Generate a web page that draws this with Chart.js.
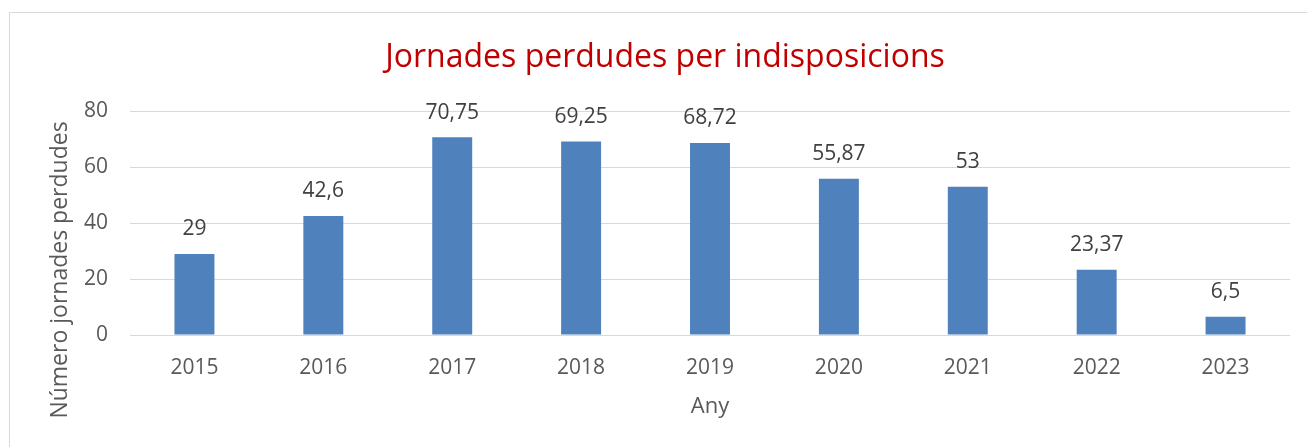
<!DOCTYPE html>
<html>
<head>
<meta charset="utf-8">
<script src="https://cdn.jsdelivr.net/npm/chart.js@4.4.0/dist/chart.umd.min.js"></script>
<style>
  html, body { margin: 0; padding: 0; background: #fff; }
  #wrap { position: relative; width: 1307px; height: 447px; overflow: hidden; }
  #frame { position: absolute; left: 9px; top: 12px; width: 1310px; height: 445px; border: 1px solid #d9d9d9; box-sizing: border-box; }
  #myChart { position: absolute; left: 0; top: 0; }
</style>
</head>
<body>
<div id="wrap">
  <div id="frame"></div>
  <canvas id="myChart" width="1307" height="447"></canvas>
</div>
<script>
const years = ["2015", "2016", "2017", "2018", "2019", "2020", "2021", "2022", "2023"];
const jornades = [29, 42.6, 70.75, 69.25, 68.72, 55.87, 53, 23.37, 6.5];
const yTicks = [0, 20, 40, 60, 80];

const FONT = "'Open Sans', sans-serif";

// etiquetes de valor damunt de cada barra (format amb coma decimal)
const valueLabels = {
  id: "valueLabels",
  afterDatasetsDraw(chart) {
    const ctx = chart.ctx;
    const meta = chart.getDatasetMeta(0);
    ctx.save();
    ctx.font = "21px " + FONT;
    ctx.fillStyle = "#404040";
    ctx.textAlign = "center";
    ctx.textBaseline = "bottom";
    meta.data.forEach((bar, i) => {
      const txt = String(jornades[i]).replace(".", ",");
      ctx.fillText(txt, bar.x, bar.y - 14);
    });
    ctx.restore();
  }
};

// títol de l'eix Y, una mica més avall que el centre de l'àrea
const yAxisTitle = {
  id: "yAxisTitle",
  afterDraw(chart) {
    const ctx = chart.ctx;
    ctx.save();
    ctx.translate(60, 270);
    ctx.rotate(-Math.PI / 2);
    ctx.font = "23px " + FONT;
    ctx.fillStyle = "#595959";
    ctx.textAlign = "center";
    ctx.textBaseline = "middle";
    ctx.fillText("Número jornades perdudes", 0, 0);
    ctx.restore();
  }
};

const charts = document.getElementById("myChart");

const config = {
  type: "bar",
  data: {
    labels: years,
    datasets: [{
      data: jornades,
      backgroundColor: "#4F81BD",
      borderWidth: 0,
      categoryPercentage: 1,
      barPercentage: 0.31
    }]
  },
  options: {
    responsive: false,
    animation: false,
    layout: { padding: { left: 40, right: 17, top: 0, bottom: 0 } },
    plugins: {
      legend: { display: false },
      tooltip: { enabled: false },
      title: {
        display: true,
        text: "Jornades perdudes per indisposicions",
        color: "#C00000",
        font: { family: FONT, size: 32, weight: "normal" },
        padding: { top: 39, bottom: 34 }
      }
    },
    scales: {
      x: {
        grid: { display: false },
        border: { display: false },
        ticks: { color: "#595959", font: { family: FONT, size: 21 }, padding: 12 },
        title: {
          display: true,
          text: "Any",
          color: "#595959",
          font: { family: FONT, size: 22 },
          padding: { top: 0, bottom: 27 }
        },
        afterFit(scale) { scale.height = 112; }
      },
      y: {
        min: 0,
        max: 80,
        afterBuildTicks(scale) { scale.ticks = yTicks.map(v => ({ value: v })); },
        grid: { color: "#d9d9d9", lineWidth: 1, drawTicks: false },
        border: { display: false },
        ticks: { color: "#595959", font: { family: FONT, size: 21 }, padding: 22 },
        afterFit(scale) { scale.width = 90; }
      }
    }
  },
  plugins: [valueLabels, yAxisTitle]
};

const barChart = new Chart(charts, config);
</script>
</body>
</html>
